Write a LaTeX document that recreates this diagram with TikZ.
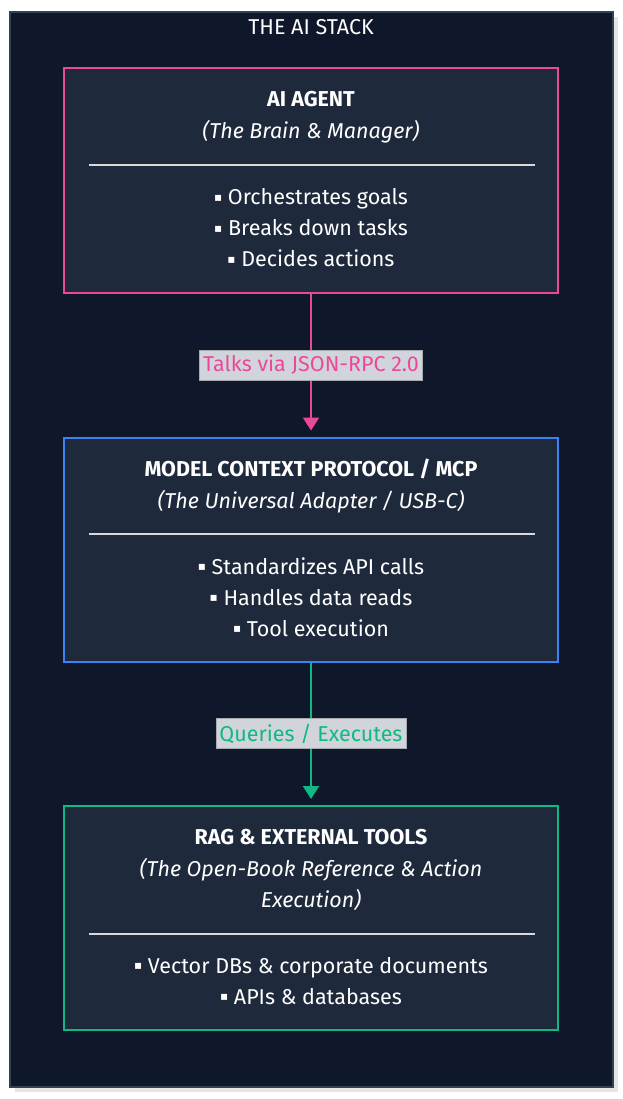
\documentclass[tikz,border=0pt]{standalone}
\usepackage{fontspec}
\setmainfont{Fira Sans}
\newfontfamily\symfont{DejaVu Sans}
\usetikzlibrary{arrows.meta,positioning,calc}
\definecolor{pagebg}{HTML}{0F172A}
\definecolor{boxbg}{HTML}{1E293B}
\definecolor{framec}{HTML}{334155}
\definecolor{agentc}{HTML}{EC4899}
\definecolor{mcpc}{HTML}{3B82F6}
\definecolor{ragc}{HTML}{10B981}
\definecolor{lblbg}{HTML}{D1D5DB}
\newcommand\bul{\raisebox{3.5pt}{\symfont\fontsize{12}{12}\selectfont ▪}\ }

\begin{document}
\begin{tikzpicture} [x=1pt, y=-1pt,
     layer/.style={draw=#1, line width=2pt, fill=boxbg, minimum width=494pt, minimum height=224pt},
     head/.style={text=white, align=center, font=\fontsize{21.5}{31.5}\selectfont},
     items/.style={text=white, align=center, font=\fontsize{21.5}{31}\selectfont},
     link/.style={draw=#1, line width=2pt, -{Triangle[width=16pt,length=13pt]}, shorten >=6pt},
     lbl/.style={fill=lblbg, draw=lblbg!80!black, line width=0.6pt, text=#1, inner xsep=3.5pt, inner ysep=1.5pt, minimum height=30pt, font=\fontsize{21.5}{24}\selectfont}]
     \useasboundingbox (0,0) rectangle (623,1099);
     \fill [black!10] (15,17) rectangle (618,1092);
     \draw [framec, line width=2pt, fill=pagebg] (10,12) rectangle (613,1087);
     \node [text=white, font=\fontsize{21.5}{24}\selectfont] (title) at (311,27) {THE AI STACK};

     \node [layer=agentc] (agent) at (311,180.5) {};
     \node [layer=mcpc] (mcp) at (311,549.5) {};
     \node [layer=ragc] (rag) at (311,918) {};

     \node [head] (agenthead) at (311,117) {\textbf{AI AGENT}\\\textit{(The Brain \& Manager)}};
     \draw [white!85!black, line width=1.2pt] (89,165) -- (535,165);
     \node [items] (agentitems) at (311,228) {\bul Orchestrates goals\\\bul Breaks down tasks\\\bul Decides actions};

     \node [head] (mcphead) at (311,486) {\textbf{MODEL CONTEXT PROTOCOL / MCP}\\\textit{(The Universal Adapter / USB-C)}};
     \draw [white!85!black, line width=1.2pt] (89,534) -- (535,534);
     \node [items] (mcpitems) at (311,597) {\bul Standardizes API calls\\\bul Handles data reads\\\bul Tool execution};

     \node [head] (raghead) at (311,870) {\textbf{RAG \& EXTERNAL TOOLS}\\\textit{(The Open-Book Reference \& Action}\\\textit{Execution)}};
     \draw [white!85!black, line width=1.2pt] (89,934) -- (535,934);
     \node [items] (ragitems) at (311,981) {\bul Vector DBs \& corporate documents\\\bul APIs \& databases};

     \draw [link=agentc] (agent) -- node [lbl=agentc] {Talks via JSON-RPC 2.0} (mcp);
     \draw [link=ragc] (mcp) -- node [lbl=ragc] {Queries / Executes} (rag);
\end{tikzpicture}
\end{document}
